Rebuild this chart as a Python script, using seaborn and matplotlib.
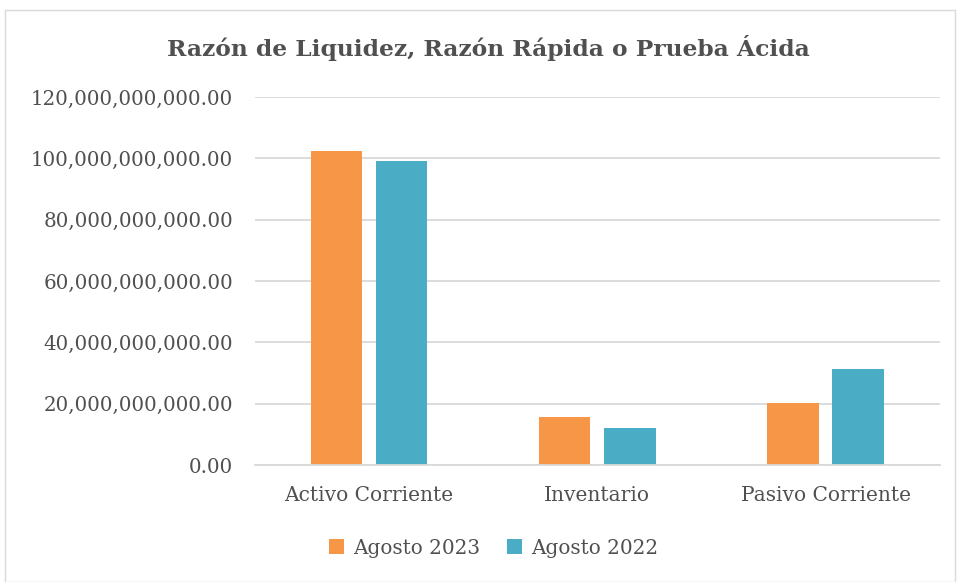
import matplotlib
matplotlib.use("Agg")
import matplotlib.pyplot as plt
import matplotlib.ticker as mticker
from matplotlib.patches import Rectangle
import seaborn as sns
import pandas as pd

categories = ["Activo Corriente", "Inventario", "Pasivo Corriente"]
series_names = ["Agosto 2023", "Agosto 2022"]
agosto_2023 = [102.3e9, 15.7e9, 20.1e9]
agosto_2022 = [99.3e9, 11.95e9, 31.3e9]
title = "Razón de Liquidez, Razón Rápida o Prueba Ácida"

df = pd.DataFrame({
    "Categoria": categories * 2,
    "Serie": [series_names[0]] * 3 + [series_names[1]] * 3,
    "Valor": agosto_2023 + agosto_2022,
})

sns.set_theme(style="white")
plt.rcParams["font.family"] = ["DejaVu Serif"]
text_color = "#505050"

fig = plt.figure(figsize=(9.58, 5.82), dpi=100)
ax = fig.add_axes([0.266, 0.201, 0.715, 0.632])

palette = {series_names[0]: "#F79646", series_names[1]: "#4BACC6"}
sns.barplot(data=df, x="Categoria", y="Valor", hue="Serie", order=categories,
            hue_order=series_names, palette=palette, width=0.57, gap=0.21,
            saturation=1, ax=ax, legend=True, edgecolor="none")

ax.set_ylim(0, 120e9)
ax.set_xlim(-0.5, 2.5)
ax.yaxis.set_major_locator(mticker.MultipleLocator(20e9))
ax.yaxis.set_major_formatter(mticker.FuncFormatter(lambda v, p: f"{v:,.2f}"))
ax.grid(axis="y", color="#D9D9D9", linewidth=1.3)
ax.set_axisbelow(True)
for s in ["top", "right", "left"]:
    ax.spines[s].set_visible(False)
ax.spines["bottom"].set_color("#D9D9D9")
ax.spines["bottom"].set_linewidth(1.3)
ax.tick_params(axis="y", length=0, colors=text_color, labelsize=14.3, pad=15.5)
ax.tick_params(axis="x", length=0, colors=text_color, labelsize=14.5, pad=15)
ax.set_xlabel("")
ax.set_ylabel("")

leg = ax.legend(loc="center", bbox_to_anchor=(0.515, 0.058), bbox_transform=fig.transFigure,
                ncol=2, frameon=False, fontsize=14.4, handlelength=0.75, handleheight=0.75,
                columnspacing=1.35, handletextpad=0.45)
for t in leg.get_texts():
    t.set_color(text_color)

fig.text(0.51, 0.917, title, ha="center", va="center", fontsize=16.8,
         fontweight="bold", color=text_color)

fig.patches.append(Rectangle((5 / 958, 0), 950 / 958, 572 / 582, transform=fig.transFigure,
                             fill=False, edgecolor="#D9D9D9", linewidth=1))

fig.savefig("out.png", dpi=100)
